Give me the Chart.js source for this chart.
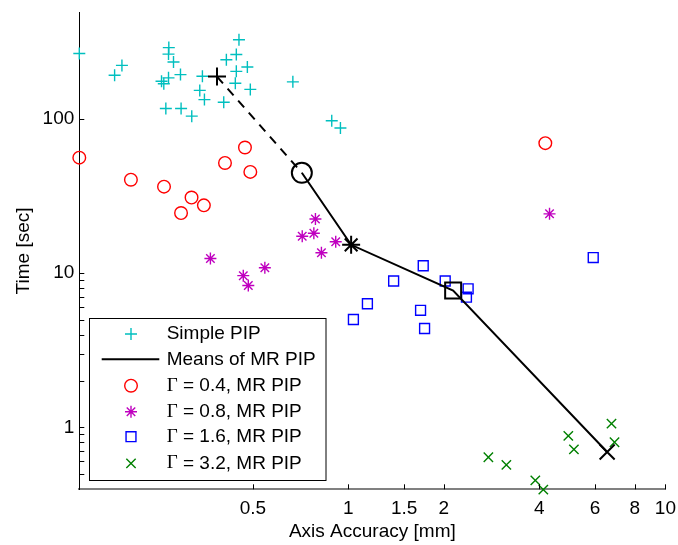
<!DOCTYPE html>
<html><head><meta charset="utf-8">
<script src="https://cdn.jsdelivr.net/npm/chart.js"></script>
<style>html,body{margin:0;padding:0;background:#fff}canvas{display:block}</style>
</head><body>
<canvas id="c" width="678" height="545"></canvas>
<script>
// ---- data ----
const simplePipX = [0.1416,0.183,0.193,0.2713,0.2707,0.2807,0.2953,0.2707,0.2573,0.2616,0.2655,0.2966,0.3205,0.3463,0.3397,0.3514,0.4043,0.4121,0.443,0.4516,0.443,0.48,0.4398,0.4904,0.668,0.886,0.9437];
const simplePipY = [266.9,192.8,223.5,291.5,264.5,235,194.8,185.5,176.4,169.8,117.3,117.3,104.7,189.9,153.8,134.0,128.8,243.1,263,328.1,204.5,218.3,171.3,156.1,174.8,97.7,87.7];
const meansX = [0.385,0.713,1.02,2.14,6.55];
const meansY = [189,44.9,15.3,7.73,0.691];
const g04X = [0.1416,0.206,0.262,0.320,0.350,0.2965,0.408,0.4717,0.4904,4.18];
const g04Y = [56.3,40.5,36.5,31.0,27.6,24.6,52.0,65.5,45.5,69.9];
const g08X = [0.367,0.466,0.4833,0.545,0.787,0.715,0.778,0.822,0.912,4.31];
const g08Y = [12.46,9.65,8.33,10.86,22.5,17.4,18.2,13.6,16.0,24.3];
const g16X = [1.722,1.389,1.148,1.037,1.689,1.739,2.02,2.386,2.357,5.92];
const g16Y = [11.19,8.91,6.34,5.01,5.75,4.38,8.91,7.92,7.00,12.65];
const g32X = [2.764,3.15,3.887,4.12,4.94,5.145,6.76,6.91];
const g32Y = [0.639,0.570,0.453,0.394,0.881,0.719,1.056,0.80];
const xTicks = [0.5,1,1.5,2,4,6,8,10];
const xTickLabels = ['0.5','1','1.5','2','4','6','8','10'];
const yTicks = [0.5,0.6,0.7,0.8,0.9,1,2,3,4,5,6,7,8,9,10,100];
const yTickLabels = ['','','','','','1','','','','','','','','','10','100'];
const xLimits = [0.1416,10];
const yLimits = [0.396,492];
const seriesNames = ['Simple PIP','Means of MR PIP','Γ = 0.4, MR PIP','Γ = 0.8, MR PIP','Γ = 1.6, MR PIP','Γ = 3.2, MR PIP'];

const FONT = "'Liberation Sans', Arial, Helvetica, sans-serif";
const CYAN='#00BFBF', RED='#FF0000', MAG='#BF00BF', BLUE='#0000FF', GREEN='#008000';
const pts = (xs,ys)=>xs.map((x,i)=>({x:x,y:ys[i]}));

const inwardTicks = {
  id:'inwardTicks',
  afterDatasetsDraw(chart){
    const {ctx, chartArea:a, scales:{x,y}} = chart;
    ctx.save(); ctx.lineWidth=1; ctx.strokeStyle='#000';
    x.ticks.forEach(t=>{const px=Math.round(x.getPixelForValue(t.value))+0.5;ctx.beginPath();ctx.moveTo(px,a.bottom);ctx.lineTo(px,a.bottom-5);ctx.stroke();});
    y.ticks.forEach(t=>{const py=Math.round(y.getPixelForValue(t.value))+0.5;ctx.beginPath();ctx.moveTo(a.left,py);ctx.lineTo(a.left+5,py);ctx.stroke();});
    ctx.restore();
  }
};

const boxLegend = {
  id:'boxLegend',
  afterDraw(chart){
    const ctx = chart.ctx;
    const bx=89.5, by=318.5, bw=236.5, bh=162;
    ctx.save();
    ctx.fillStyle='#fff'; ctx.fillRect(bx,by,bw,bh);
    ctx.strokeStyle='#000'; ctx.lineWidth=1; ctx.strokeRect(bx,by,bw,bh);
    const rows=[334,359.3,385.7,411.7,436.7,463.3];
    const ds = chart.data.datasets;
    ds.forEach((d,k)=>{
      const yy=rows[k];
      ctx.save();
      if(k===1){
        ctx.strokeStyle='#000'; ctx.lineWidth=2; ctx.beginPath(); ctx.moveTo(101.7,yy); ctx.lineTo(159.3,yy); ctx.stroke();
      } else {
        ctx.strokeStyle=d.borderColor; ctx.fillStyle='rgba(0,0,0,0)'; ctx.lineWidth=d.borderWidth;
        Chart.helpers.drawPoint(ctx,{pointStyle:d.pointStyle,radius:d.pointRadius,borderWidth:d.borderWidth,rotation:0},131,yy);
      }
      ctx.restore();
      ctx.fillStyle='#000'; ctx.textBaseline='middle'; ctx.textAlign='left';
      const name = d.label;
      if(name.charAt(0)==='Γ'){
        ctx.font="19px 'Liberation Serif', serif";
        ctx.fillText('Γ',166.7,yy);
        const w=ctx.measureText('Γ').width;
        ctx.font='19px '+FONT;
        ctx.fillText(name.slice(1),166.7+w,yy);
      } else {
        ctx.font='19px '+FONT;
        ctx.fillText(name,166.7,yy);
      }
    });
    ctx.restore();
  }
};

const zeroPad = s=>{s.paddingTop=0;s.paddingBottom=0;s.paddingLeft=0;s.paddingRight=0;};

new Chart(document.getElementById('c'),{
  type:'scatter',
  data:{datasets:[
    {label:seriesNames[0],data:pts(simplePipX,simplePipY),pointStyle:'cross',pointRadius:6,borderColor:CYAN,backgroundColor:'transparent',borderWidth:1.4,order:2,clip:false},
    {label:seriesNames[1],data:pts(meansX,meansY),showLine:true,tension:0,borderColor:'#000',backgroundColor:'transparent',borderWidth:2,
      pointStyle:['cross','circle','star','rect','crossRot'],pointRadius:[9,10,9,11.3,10.6],pointBorderWidth:2,pointBorderColor:'#000',
      segment:{borderDash:c=>c.p0DataIndex===0?[9,7]:undefined},order:1,clip:false},
    {label:seriesNames[2],data:pts(g04X,g04Y),pointStyle:'circle',pointRadius:6.3,borderColor:RED,backgroundColor:'transparent',borderWidth:1.4,order:3,clip:false},
    {label:seriesNames[3],data:pts(g08X,g08Y),pointStyle:'star',pointRadius:6,borderColor:MAG,backgroundColor:'transparent',borderWidth:1.4,order:4,clip:false},
    {label:seriesNames[4],data:pts(g16X,g16Y),pointStyle:'rect',pointRadius:7,borderColor:BLUE,backgroundColor:'transparent',borderWidth:1.4,order:5,clip:false},
    {label:seriesNames[5],data:pts(g32X,g32Y),pointStyle:'crossRot',pointRadius:6.6,borderColor:GREEN,backgroundColor:'transparent',borderWidth:1.4,order:6,clip:false}
  ]},
  options:{
    responsive:false, animation:false, devicePixelRatio:1,
    layout:{padding:{top:7.3,right:11.3,left:0,bottom:0}},
    plugins:{legend:{display:false},tooltip:{enabled:false}},
    scales:{
      x:{type:'logarithmic',position:'bottom',min:xLimits[0],max:xLimits[1],
        afterBuildTicks:s=>{s.ticks=xTicks.map(v=>({value:v}));},
        afterFit:s=>{s.height=55.7;zeroPad(s);},
        grid:{display:false,drawTicks:false},
        border:{display:true,color:'#808080',width:2},
        ticks:{autoSkip:false,maxRotation:0,padding:8,color:'#000',font:{family:FONT,size:19},
          callback:(v)=>{const i=xTicks.indexOf(v);return i>=0?xTickLabels[i]:'';}},
        title:{display:true,text:'Axis Accuracy [mm]',color:'#000',font:{family:FONT,size:19},padding:{top:0,bottom:2}}
      },
      y:{type:'logarithmic',position:'left',min:yLimits[0],max:yLimits[1],
        afterBuildTicks:s=>{s.ticks=yTicks.map(v=>({value:v}));},
        afterFit:s=>{s.width=79.3;zeroPad(s);},
        grid:{display:false,drawTicks:false},
        border:{display:true,color:'#000',width:1},
        ticks:{autoSkip:false,padding:5,color:'#000',font:{family:FONT,size:19},
          callback:(v)=>{const i=yTicks.indexOf(v);return i>=0?yTickLabels[i]:'';}},
        title:{display:true,text:'Time [sec]',color:'#000',font:{family:FONT,size:19},padding:{top:12,bottom:0}}
      }
    }
  },
  plugins:[inwardTicks,boxLegend]
});
</script>
</body></html>
